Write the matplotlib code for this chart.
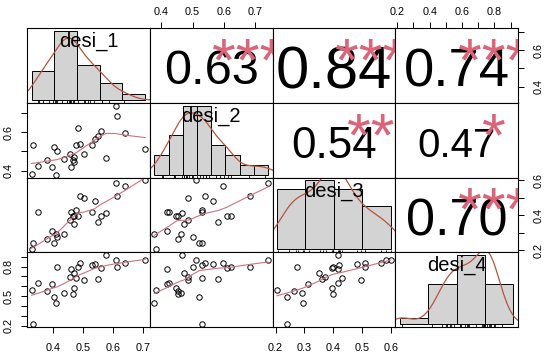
"""Correlation matrix chart for the four desi_* scores.

Same layout as PerformanceAnalytics::chart.Correlation: histogram + density + rug
on the diagonal, points + lowess smooth below it, and the correlation coefficient
(sized by |r|) with its significance stars above it.
"""
from __future__ import annotations

import numpy as np
import matplotlib
matplotlib.use("Agg")
import matplotlib.pyplot as plt

plt.rcParams["font.family"] = ["Liberation Sans", "DejaVu Sans"]

NAMES = ["desi_1", "desi_2", "desi_3", "desi_4"]

# one value per respondent (27), same order in every list
DESI_1 = [0.327, 0.331, 0.350, 0.377, 0.396, 0.402, 0.409, 0.412, 0.434, 0.454,
          0.458, 0.464, 0.468, 0.470, 0.475, 0.481, 0.487, 0.503, 0.530, 0.537,
          0.549, 0.559, 0.576, 0.609, 0.611, 0.640, 0.706]
DESI_2 = [0.382, 0.531, 0.424, 0.454, 0.419, 0.521, 0.378, 0.502, 0.462, 0.484,
          0.418, 0.454, 0.446, 0.473, 0.531, 0.621, 0.541, 0.486, 0.531, 0.566,
          0.580, 0.609, 0.466, 0.740, 0.684, 0.596, 0.511]
DESI_3 = [0.205, 0.241, 0.418, 0.265, 0.312, 0.241, 0.294, 0.275, 0.293, 0.373,
          0.418, 0.398, 0.395, 0.350, 0.429, 0.398, 0.511, 0.497, 0.421, 0.483,
          0.361, 0.396, 0.416, 0.583, 0.511, 0.566, 0.600]
DESI_4 = [0.563, 0.216, 0.634, 0.556, 0.624, 0.496, 0.426, 0.795, 0.529, 0.690,
          0.777, 0.523, 0.579, 0.734, 0.680, 0.797, 0.840, 0.662, 0.817, 0.827,
          0.670, 0.787, 0.917, 0.867, 0.794, 0.837, 0.864]

HIST_BREAKS = [
    [0.3, 0.4, 0.5, 0.6, 0.7, 0.8],
    [0.35, 0.40, 0.45, 0.50, 0.55, 0.60, 0.65, 0.70, 0.75],
    [0.2, 0.3, 0.4, 0.5, 0.6],
    [0.2, 0.4, 0.6, 0.8, 1.0],
]

# upper triangle: (row var, col var) -> printed r and significance stars
CORR_PAIRS = [(0, 1), (0, 2), (0, 3), (1, 2), (1, 3), (2, 3)]
CORR_TEXT = ["0.63", "0.84", "0.74", "0.54", "0.47", "0.70"]
CORR_STARS = ["***", "***", "***", "**", "*", "***"]

# outer axes (R pairs alternates sides): index -> (ticks, ticks that get a label)
TOP_TICKS = {1: ([0.4, 0.5, 0.6, 0.7], [0.4, 0.5, 0.6, 0.7]),
             3: ([0.2, 0.3, 0.4, 0.5, 0.6, 0.7, 0.8, 0.9], [0.2, 0.4, 0.6, 0.8])}
BOTTOM_TICKS = {0: ([0.4, 0.5, 0.6, 0.7], [0.4, 0.5, 0.6, 0.7]),
                2: ([0.2, 0.3, 0.4, 0.5, 0.6], [0.2, 0.3, 0.4, 0.5, 0.6])}
LEFT_TICKS = {1: ([0.4, 0.5, 0.6, 0.7], [0.4, 0.6]),
              3: ([0.2, 0.3, 0.4, 0.5, 0.6, 0.7, 0.8, 0.9], [0.2, 0.5, 0.8])}
RIGHT_TICKS = {0: ([0.4, 0.5, 0.6, 0.7], [0.4, 0.6]),
               2: ([0.2, 0.3, 0.4, 0.5, 0.6], [0.2, 0.4, 0.6])}

HIST_FILL = "#D3D3D3"
DENS_COL = "#B9533C"
SMOOTH_COL = "#D0707E"
STAR_COL = "#DB6479"


def lowess(x, y, f=2 / 3, iters=3):
    """Plain lowess (tricube local lines + bisquare robustness), like R's."""
    order = np.argsort(x, kind="stable")
    x = np.asarray(x, float)[order]
    y = np.asarray(y, float)[order]
    n = len(x)
    ns = max(min(int(f * n + 1e-7), n), 2)
    rw = np.ones(n)
    fit = np.zeros(n)
    for it in range(iters + 1):
        for i in range(n):
            d = np.abs(x - x[i])
            h = np.sort(d)[ns - 1]
            u = np.clip(d / max(h, 1e-12), 0, 1)
            w = (1 - u ** 3) ** 3 * rw
            sw = w.sum()
            xm, ym = (w * x).sum() / sw, (w * y).sum() / sw
            sxx = (w * (x - xm) ** 2).sum()
            b = (w * (x - xm) * (y - ym)).sum() / sxx if sxx > 1e-12 else 0.0
            fit[i] = ym + b * (x[i] - xm)
        if it == iters:
            break
        res = y - fit
        s = np.median(np.abs(res))
        uu = np.clip(res / (6 * s), -1, 1)
        rw = (1 - uu ** 2) ** 2
    return x, fit


def density(x):
    """Gaussian KDE with R's bw.nrd0 and cut = 3."""
    x = np.asarray(x, float)
    n = len(x)
    q75, q25 = np.percentile(x, [75, 25])
    bw = 0.9 * min(x.std(ddof=1), (q75 - q25) / 1.34) * n ** -0.2
    grid = np.linspace(x.min() - 3 * bw, x.max() + 3 * bw, 512)
    z = (grid[:, None] - x[None, :]) / bw
    return grid, np.exp(-0.5 * z ** 2).sum(1) / (n * bw * np.sqrt(2 * np.pi))


def outer_axis(ax, side, ticks, labelled):
    labels = [f"{t:g}" if np.any(np.isclose(t, labelled)) else "" for t in ticks]
    style = dict(length=4.3, width=0.7, labelsize=7.8, direction="out")
    if side in ("top", "bottom"):
        ax.set_xticks(ticks, labels)
        ax.tick_params(axis="x", top=side == "top", bottom=side == "bottom",
                       labeltop=side == "top", labelbottom=side == "bottom",
                       pad=3.4 if side == "top" else 7.0, **style)
    else:
        ax.set_yticks(ticks, labels)
        ax.tick_params(axis="y", left=side == "left", right=side == "right",
                       labelleft=side == "left", labelright=side == "right",
                       labelrotation=90, pad=5.0 if side == "left" else 7.0, **style)
        for lab in ax.get_yticklabels():
            lab.set_va("center")


def main() -> None:
    data = [np.array(v) for v in (DESI_1, DESI_2, DESI_3, DESI_4)]
    k = len(data)
    ranges = []
    for v in data:
        span = v.max() - v.min()
        ranges.append((v.min() - 0.04 * span, v.max() + 0.04 * span))

    fig, axes = plt.subplots(k, k, figsize=(5.5, 3.58), dpi=100,
                             gridspec_kw=dict(hspace=0, wspace=0))
    fig.subplots_adjust(left=27 / 550, right=518 / 550, bottom=1 - 327 / 358, top=1 - 28 / 358)

    for i in range(k):
        for j in range(k):
            ax = axes[i, j]
            ax.set_xticks([])
            ax.set_yticks([])
            for sp in ax.spines.values():
                sp.set_linewidth(0.8)

            if i == j:
                # diagonal: histogram on its own scale, density, rug, name
                br = np.array(HIST_BREAKS[i])
                counts, _ = np.histogram(data[i], bins=br)
                widths = np.diff(br)
                dens = counts / (len(data[i]) * widths)
                ax.bar(br[:-1], dens, width=widths, align="edge", color=HIST_FILL,
                       edgecolor="black", linewidth=0.7, zorder=1)
                gx, gy = density(data[i])
                ax.plot(gx, gy, color=DENS_COL, lw=0.9, zorder=2)
                ax.vlines(data[i], 0, 0.035, transform=ax.get_xaxis_transform(),
                          color="black", lw=0.6, zorder=3)
                span = br[-1] - br[0]
                ax.set_xlim(br[0] - 0.04 * span, br[-1] + 0.04 * span)
                ax.set_ylim(-0.04 * dens.max(), 1.04 * dens.max())
                ax.text(0.5, 0.82, NAMES[i], transform=ax.transAxes, ha="center",
                        va="center", fontsize=14.5, zorder=4)
                continue

            ax.set_xlim(*ranges[j])
            ax.set_ylim(*ranges[i])
            if i > j:
                ax.plot(data[j], data[i], "o", mfc="none", mec="black", ms=3.9, mew=0.7)
                lx, ly = lowess(data[j], data[i])
                ax.plot(lx, ly, color=SMOOTH_COL, lw=0.8)
            else:
                idx = CORR_PAIRS.index((i, j))
                txt = CORR_TEXT[idx]
                size = 37.7 * (abs(float(txt)) + 0.3)
                ax.text(0.5, 0.48, txt, transform=ax.transAxes, ha="center",
                        va="center_baseline", fontsize=size)
                ax.text(0.8, 0.3, CORR_STARS[idx], transform=ax.transAxes,
                        ha="center", va="baseline", fontsize=44, color=STAR_COL,
                        clip_on=True)

            if i == 0 and j in TOP_TICKS:
                outer_axis(ax, "top", *TOP_TICKS[j])
            if i == k - 1 and j in BOTTOM_TICKS:
                outer_axis(ax, "bottom", *BOTTOM_TICKS[j])
            if j == 0 and i in LEFT_TICKS:
                outer_axis(ax, "left", *LEFT_TICKS[i])
            if j == k - 1 and i in RIGHT_TICKS:
                outer_axis(ax, "right", *RIGHT_TICKS[i])
            ax.set_xlim(*ranges[j])
            ax.set_ylim(*ranges[i])

    fig.savefig("out.png", dpi=100)


if __name__ == "__main__":
    main()
